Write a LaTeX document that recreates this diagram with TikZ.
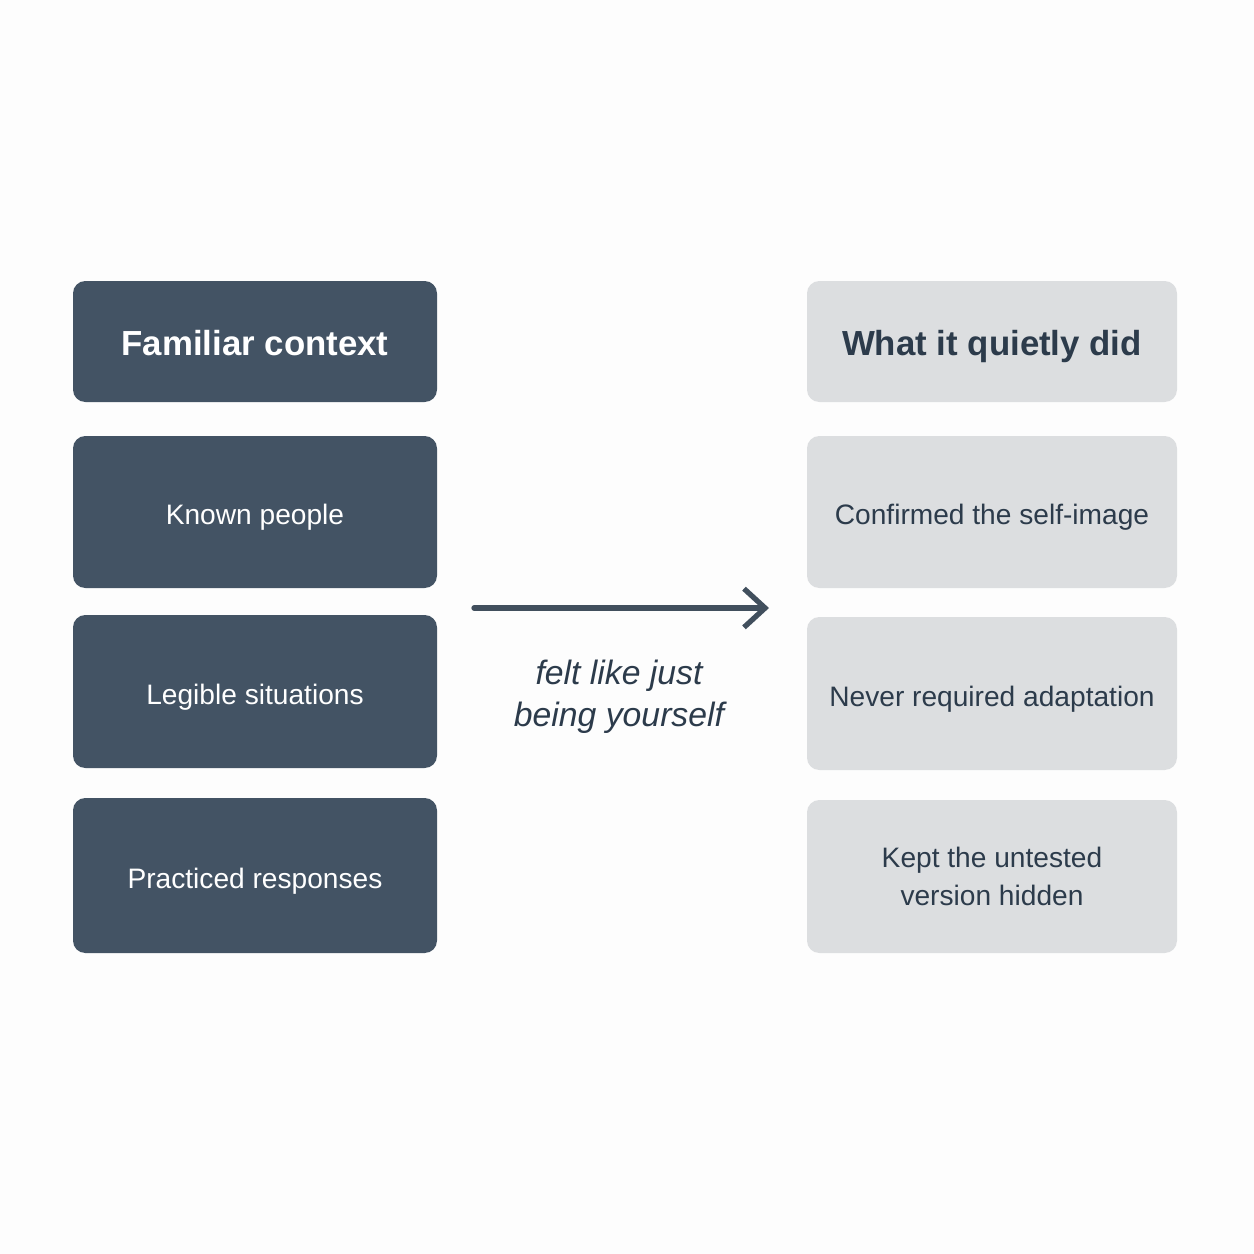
\documentclass[tikz,border=0pt]{standalone}
\usepackage{fontspec}
\setmainfont{Liberation Sans}
\usepackage{tikz}
\usetikzlibrary{arrows.meta}
\usepackage{xcolor}
\definecolor{slate}{HTML}{435364}
\definecolor{mist}{HTML}{DCDEE0}
\definecolor{ink}{HTML}{2C3B4B}
\definecolor{paper}{HTML}{FDFDFD}

\begin{document}
\begin{tikzpicture}[x=0.01cm,y=-0.01cm,line cap=round,
  darkbox/.style={fill=slate,rounded corners=3.5pt,inner sep=0pt,minimum width=364*0.01cm,text=white,align=center,font=\fontsize{8}{11}\selectfont},
  lightbox/.style={fill=mist,rounded corners=3.5pt,inner sep=0pt,minimum width=370*0.01cm,text=ink,align=center,font=\fontsize{8}{11}\selectfont},
  oneline/.style={text height=9pt,text depth=1.7pt},
  headfont/.style={text height=10pt,text depth=2.1pt,font=\fontsize{9.9}{13}\selectfont\bfseries}]
\fill[paper] (0,0) rectangle (1254,1254);
\useasboundingbox (0,0) rectangle (1254,1254);
% left column
\node[darkbox,headfont,minimum height=121*0.01cm] (famctx) at (255,341.5) {Familiar context};
\node[darkbox,oneline,minimum height=152*0.01cm] (known) at (255,512) {Known people};
\node[darkbox,oneline,minimum height=153*0.01cm] (legible) at (255,691.5) {Legible situations};
\node[darkbox,oneline,minimum height=155*0.01cm] (practiced) at (255,875.5) {Practiced responses};
% right column
\node[lightbox,headfont,minimum height=121*0.01cm] (quietly) at (992,341.5) {What it quietly did};
\node[lightbox,oneline,minimum height=152*0.01cm] (confirmed) at (992,512) {Confirmed the self-image};
\node[lightbox,oneline,minimum height=153*0.01cm] (never) at (992,693.5) {Never required adaptation};
\node[lightbox,minimum height=153*0.01cm] (kept) at (992,876.5) {Kept the untested\\version hidden};
% arrow
\coordinate (arrfrom) at (474,608);
\coordinate (arrto) at (769,608);
\draw[ink!90,line width=1.5pt,-{Straight Barb[length=6pt,width=11pt,line width=1.5pt]}] (arrfrom) -- (arrto);
\node[text=ink,align=center,font=\fontsize{9.6}{12}\selectfont\itshape] (felt) at (619,697) {felt like just\\being yourself};
\end{tikzpicture}
\end{document}
